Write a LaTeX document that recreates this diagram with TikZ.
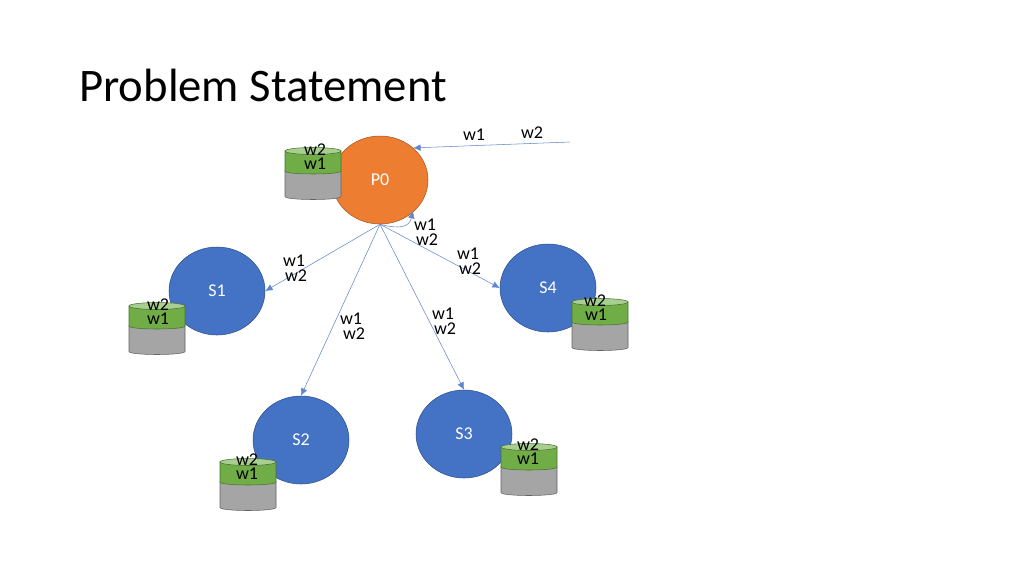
\documentclass[tikz,border=0pt]{standalone}
\usepackage{fontspec}
\setmainfont{Carlito}
\usepackage{xcolor}
\usetikzlibrary{arrows.meta,shapes.geometric}
\definecolor{procorange}{RGB}{237,125,49}
\definecolor{procblue}{RGB}{68,114,196}
\definecolor{drumgreen}{RGB}{112,173,71}
\definecolor{drumgray}{RGB}{165,165,165}
\tikzset{
  proc/.style={ellipse,draw=procblue!70!black,fill=procblue,text=white,inner sep=0pt,minimum width=72pt,minimum height=66pt,font=\fontsize{13.5}{13.5}\selectfont},
  wlabel/.style={inner sep=0pt,font=\fontsize{13.5}{13.5}\selectfont},
  msg/.style={draw=procblue!85!white,line width=0.4pt,-{Latex[length=5.5pt,width=5pt]}},
  drum/.pic={
    \draw[drumgray!60!black,fill=drumgray,line width=0.4pt] (0,20) -- (0,45.5) .. controls (0,49.5) and (56,49.5) .. (56,45.5) -- (56,20) -- cycle;
    \draw[drumgreen!65!black,fill=drumgreen,line width=0.4pt] (0,0) -- (0,20) .. controls (0,24) and (56,24) .. (56,20) -- (56,0) -- cycle;
    \draw[drumgreen!65!black,fill=drumgreen!60!white,line width=0.4pt] (28,0) ellipse[x radius=28,y radius=3.5];
  }
}

\begin{document}
\begin{tikzpicture}[x=0.75pt,y=-0.75pt]
  \useasboundingbox (0,0) rectangle (1024,576);
  \node[anchor=west,inner sep=0pt,font=\fontsize{35}{35}\selectfont] (title) at (79,85) {Problem Statement};

  % processes
  \node[proc,fill=procorange,draw=procorange!70!black] (p0) at (380,180) {P0};
  \node[proc] (s1) at (217,291) {S1};
  \node[proc] (s2) at (301,440) {S2};
  \node[proc] (s3) at (464,434) {S3};
  \node[proc] (s4) at (548,288) {S4};

  % drums
  \pic at (285,151) {drum};
  \pic at (129,306) {drum};
  \pic at (220,462) {drum};
  \pic at (501,447) {drum};
  \pic at (572,302) {drum};

  % messages
  \coordinate (client) at (570,142);
  \coordinate (selfend) at (413,211);
  \draw[msg] (client) -- (p0.44);
  \draw[msg] (p0.south) .. controls (398,229) and (409,228) .. (selfend);
  \draw[msg] (p0.south) -- (s1.east);
  \draw[msg] (p0.south) -- (s2.north);
  \draw[msg] (p0.south) -- (s3.north);
  \draw[msg] (p0.south) -- (s4.west);

  % labels
  \node[wlabel] (cw1) at (474,135) {w1};
  \node[wlabel] (cw2) at (532,133) {w2};
  \node[wlabel] (p0a) at (315,150) {w2};
  \node[wlabel] (p0b) at (315,164) {w1};
  \node[wlabel] (selfa) at (425,225) {w1};
  \node[wlabel] (selfb) at (427,240) {w2};
  \node[wlabel] (s4m1) at (468,254) {w1};
  \node[wlabel] (s4m2) at (470,269) {w2};
  \node[wlabel] (s1m1) at (294,261) {w1};
  \node[wlabel] (s1m2) at (296,276) {w2};
  \node[wlabel] (s2m1) at (351,319) {w1};
  \node[wlabel] (s2m2) at (354,334) {w2};
  \node[wlabel] (s3m1) at (443,314) {w1};
  \node[wlabel] (s3m2) at (445,329) {w2};
  \node[wlabel] (s1a) at (158,305) {w2};
  \node[wlabel] (s1b) at (158,319) {w1};
  \node[wlabel] (s2a) at (247,460) {w2};
  \node[wlabel] (s2b) at (247,474) {w1};
  \node[wlabel] (s3a) at (528,445) {w2};
  \node[wlabel] (s3b) at (528,459) {w1};
  \node[wlabel] (s4a) at (595,301) {w2};
  \node[wlabel] (s4b) at (596,315) {w1};
\end{tikzpicture}
\end{document}
